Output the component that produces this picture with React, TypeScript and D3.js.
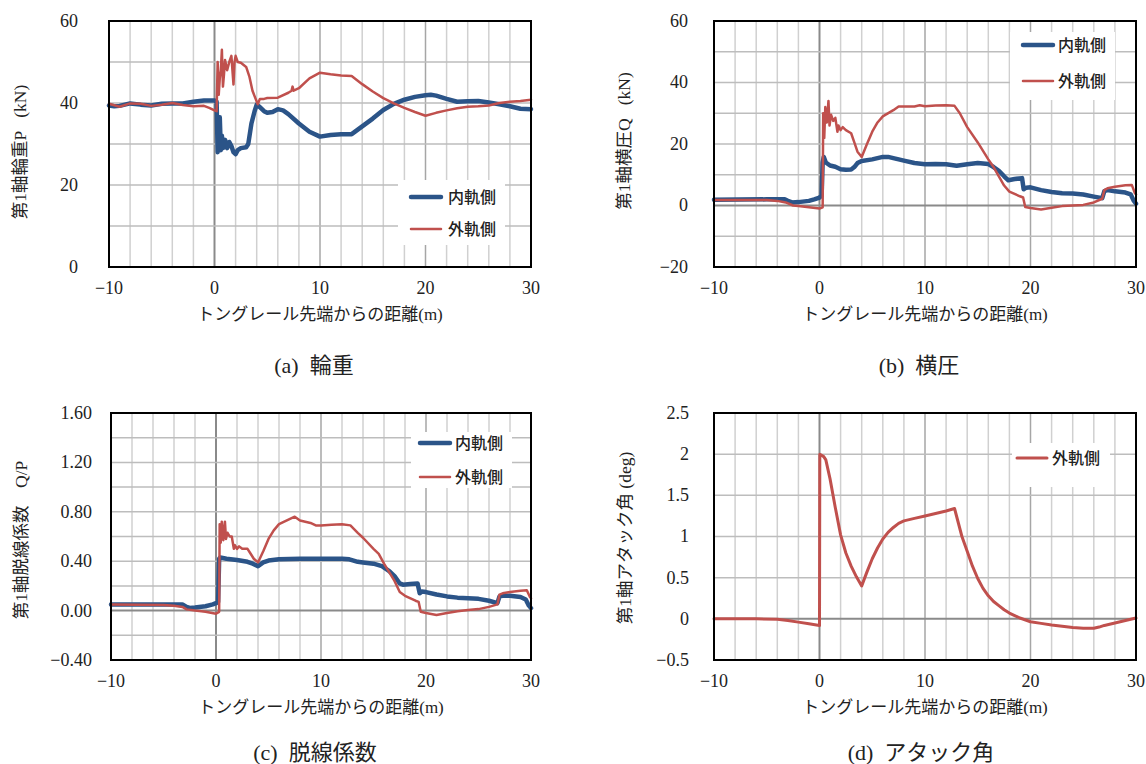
import React from "react";
import * as d3 from "d3";

type Pt = [number, number];

const xTicks = [-10, 0, 10, 20, 30];
const xTickLabels = ["−10", "0", "10", "20", "30"];
const innerName = "内軌側";
const outerName = "外軌側";
const xTitle = "トングレール先端からの距離(m)";

// (a) 輪重 P (kN)
const loadInner: Pt[] = [[-10,39.4],[-9.5,39.2],[-9,39.3],[-8,39.9],[-7,39.6],[-6,39.4],[-5,39.8],[-4,39.9],[-3,39.9],[-2,40.3],[-1,40.6],[0,40.6],[0.2,40.3],[0.3,28],[0.4,33],[0.5,36.5],[0.6,28.5],[0.7,32],[0.8,29],[1.0,31],[1.2,29],[1.4,30.5],[1.6,29.5],[1.8,28],[2.0,27.5],[2.2,28.5],[2.5,29],[3.0,29.2],[3.2,30],[3.5,35],[3.8,38],[4.0,39.6],[4.3,39],[4.7,38],[5.0,37.6],[5.5,37.8],[6.0,38.5],[6.5,38.2],[7.0,37.3],[8.0,35],[9.0,33],[10.0,31.8],[11.0,32.2],[12.0,32.4],[13.0,32.4],[14.0,34.3],[15.0,36.2],[16.0,38.3],[17.0,39.8],[18.0,40.8],[19.0,41.5],[20.0,41.9],[20.5,42],[21.0,41.8],[22.0,41],[23.0,40.3],[24.0,40.4],[25.0,40.5],[26.0,40.1],[27.0,39.7],[28.0,39.2],[29.0,38.6],[30.0,38.5]];
const loadOuter: Pt[] = [[-10,39.8],[-9,39.1],[-8,39.9],[-7,39.8],[-6,39.3],[-5,39.6],[-4,40.0],[-3,39.5],[-2,39.2],[-1,39.3],[-0.5,38.8],[0,38.2],[0.2,38],[0.3,50],[0.4,42],[0.5,46],[0.6,48],[0.7,53],[0.8,44],[0.9,47],[1.0,50.5],[1.2,48],[1.4,50],[1.6,51.5],[1.8,44.5],[1.9,50],[2.0,51.5],[2.2,50],[2.5,49.8],[3.0,48.8],[3.3,46.5],[3.6,43],[3.9,41],[4.1,39.7],[4.3,41],[4.7,41],[5.0,41.2],[6.0,41.3],[7.0,42.5],[7.3,43],[7.4,44],[7.5,43],[8.0,43.6],[9.0,46],[10.0,47.4],[11.0,47],[12.0,46.7],[13.0,46.6],[14.0,44.6],[15.0,42.8],[16.0,41.2],[17.0,39.9],[18.0,38.8],[19.0,37.8],[20.0,36.9],[21.0,37.6],[22.0,38.2],[23.0,38.7],[24.0,39.1],[25.0,39.2],[26.0,39.4],[27.0,40.0],[28.0,40.3],[29.0,40.5],[30.0,40.8]];

// (b) 横圧 Q (kN)
const latInner: Pt[] = [[-10,1.9],[-5,2.0],[-3.3,2.0],[-3,1.5],[-2.6,1.0],[-2,1.1],[-1,1.5],[-0.5,2.0],[0,2.6],[0.2,3.2],[0.3,14],[0.4,15.8],[0.6,14],[0.8,13.5],[1.0,13],[1.5,12.6],[2.0,11.8],[2.5,11.6],[3.0,11.7],[3.3,12.5],[3.6,13.8],[4.0,14.5],[5.0,15.0],[6.0,15.8],[6.5,15.8],[7.0,15.4],[8.0,14.6],[9.0,13.8],[10.0,13.4],[11.0,13.5],[12.0,13.4],[13.0,12.9],[14.0,13.4],[15.0,13.8],[16.0,13.5],[16.5,12.5],[17.0,11.3],[17.5,9.5],[17.9,8.2],[18.5,8.6],[19.2,8.9],[19.35,5.3],[19.6,5.8],[20.0,5.9],[21.0,5.0],[22.0,4.4],[23.0,4.0],[24.0,3.9],[25.0,3.6],[26.0,2.9],[26.8,2.4],[27.0,4.7],[27.3,5.0],[28.0,4.6],[29.0,4.2],[29.5,3.6],[29.8,1.5],[30.0,0.6]];
const latOuter: Pt[] = [[-10,1.8],[-5,1.8],[-4,1.5],[-3.2,1.0],[-2.5,0.0],[-2,-0.2],[-1,-0.6],[0,-1.0],[0.3,-0.6],[0.35,30],[0.45,22],[0.55,32],[0.7,27],[0.85,34],[0.95,26],[1.1,29.5],[1.3,27.5],[1.5,28.5],[1.7,24],[1.8,26],[2.0,24.5],[2.2,25.5],[2.5,24.5],[3.0,23.5],[3.3,20.5],[3.6,17.5],[4.0,15.8],[4.5,20],[5.0,24],[5.5,27],[6.0,29],[7.0,31],[7.5,32.2],[8.0,32.2],[9.0,32.2],[9.5,32.6],[10.0,32.3],[11.0,32.5],[12.0,32.6],[12.8,32.4],[13.3,30],[14.0,25.5],[15.0,20.5],[16.0,15],[16.5,12.5],[17.0,9.5],[17.5,6.5],[18.0,4.5],[19.0,3.0],[19.3,2.6],[19.5,-0.5],[20.0,-0.8],[21.0,-1.3],[22.0,-0.7],[23.0,-0.2],[24.0,0.0],[25.0,0.2],[26.0,1.0],[26.8,2.2],[27.0,5.0],[27.3,5.6],[28.0,6.1],[29.0,6.6],[29.6,6.7],[29.9,4.0],[30.0,3.6]];

// (c) 脱線係数 Q/P
const qpInner: Pt[] = [[-10,0.05],[-5,0.05],[-3.2,0.05],[-2.8,0.03],[-2.5,0.022],[-2,0.025],[-1,0.035],[-0.3,0.05],[0,0.06],[0.2,0.07],[0.3,0.42],[0.4,0.43],[1.0,0.42],[2.0,0.41],[3.0,0.395],[3.5,0.38],[4.0,0.36],[4.5,0.39],[5.0,0.405],[6.0,0.415],[8.0,0.42],[10.0,0.42],[12.0,0.42],[12.7,0.415],[13.5,0.395],[14.0,0.39],[15.0,0.38],[15.8,0.36],[16.5,0.32],[17.0,0.28],[17.5,0.22],[17.8,0.21],[18.5,0.215],[19.2,0.22],[19.4,0.14],[19.6,0.155],[20.0,0.15],[21.0,0.13],[22.0,0.115],[23.0,0.105],[24.0,0.1],[25.0,0.095],[26.0,0.08],[26.8,0.06],[27.0,0.115],[27.3,0.12],[28.0,0.12],[29.0,0.11],[29.5,0.09],[29.8,0.04],[30.0,0.02]];
const qpOuter: Pt[] = [[-10,0.05],[-5,0.045],[-4,0.04],[-3.2,0.03],[-2.8,0.01],[-2,0.0],[-1,-0.01],[0,-0.025],[0.3,-0.01],[0.35,0.7],[0.45,0.55],[0.55,0.72],[0.7,0.57],[0.85,0.72],[0.95,0.58],[1.1,0.63],[1.3,0.6],[1.5,0.6],[1.7,0.5],[1.8,0.53],[2.0,0.5],[2.2,0.52],[2.5,0.5],[3.0,0.5],[3.3,0.46],[3.6,0.42],[4.0,0.39],[4.5,0.48],[5.0,0.58],[5.5,0.65],[6.0,0.7],[7.0,0.74],[7.5,0.76],[8.0,0.73],[9.0,0.71],[9.5,0.69],[10.0,0.69],[11.0,0.695],[12.0,0.7],[12.8,0.69],[13.5,0.63],[14.0,0.59],[15.0,0.5],[15.5,0.46],[16.0,0.38],[17.0,0.24],[17.5,0.15],[18.0,0.12],[19.0,0.08],[19.3,0.07],[19.5,-0.01],[20.0,-0.02],[21.0,-0.035],[22.0,-0.02],[23.0,-0.005],[24.0,0.005],[25.0,0.012],[26.0,0.03],[26.8,0.05],[27.0,0.13],[27.3,0.14],[28.0,0.15],[29.0,0.16],[29.6,0.165],[29.9,0.11],[30.0,0.1]];

// (d) アタック角 (deg)
const attackOuter: Pt[] = [[-10,0],[-6,0],[-4,-0.005],[-3,-0.02],[-2,-0.04],[-1,-0.06],[0,-0.08],[0.03,2.0],[0.4,1.97],[0.6,1.93],[1.0,1.7],[1.5,1.35],[2.0,1.02],[2.5,0.8],[3.0,0.64],[3.5,0.51],[4.0,0.4],[4.5,0.57],[5.0,0.73],[5.5,0.86],[6.0,0.97],[6.5,1.05],[7.0,1.11],[7.5,1.16],[8.0,1.19],[9.0,1.22],[10.0,1.25],[11.0,1.28],[12.0,1.31],[12.8,1.34],[13.5,1.0],[14.0,0.82],[14.5,0.64],[15.0,0.49],[15.5,0.37],[16.0,0.28],[16.5,0.21],[17.0,0.16],[17.5,0.11],[18.0,0.07],[18.5,0.04],[19.0,0.01],[20.0,-0.035],[21.0,-0.055],[22.0,-0.075],[23.0,-0.09],[24.0,-0.105],[25.0,-0.115],[26.0,-0.115],[26.5,-0.1],[27.0,-0.08],[28.0,-0.05],[29.0,-0.02],[30.0,0.01]];

const loadTicks = [0, 20, 40, 60];
const loadTickLabels = ["0", "20", "40", "60"];
const latTicks = [-20, 0, 20, 40, 60];
const latTickLabels = ["−20", "0", "20", "40", "60"];
const qpTicks = [-0.4, 0, 0.4, 0.8, 1.2, 1.6];
const qpTickLabels = ["−0.40", "0.00", "0.40", "0.80", "1.20", "1.60"];
const attackTicks = [-0.5, 0, 0.5, 1, 1.5, 2, 2.5];
const attackTickLabels = ["−0.5", "0", "0.5", "1", "1.5", "2", "2.5"];

const BLUE = "#2b5488";
const RED = "#c0504d";
const FONT = "'Liberation Serif', 'Noto Sans CJK JP', serif";
const JFONT = "'Noto Sans CJK JP', sans-serif";

type Series = { name: string; data: Pt[]; color: string; width: number };

type PanelProps = {
  left: number; right: number; top: number; bottom: number;
  yTicks: number[]; yTickLabels: string[]; yGridStep: number;
  labelRight: number;
  yTitle: string; yTitleX: number; yTitleY: number;
  caption: string; captionX: number; captionY: number;
  legend: { x: number; y: number; w: number; h: number; rowY: number[]; lineX0: number; lineX1: number; textX: number };
  series: Series[];
};

function Panel(p: PanelProps) {
  const yMin = p.yTicks[0];
  const yMax = p.yTicks[p.yTicks.length - 1];
  const x = d3.scaleLinear().domain([-10, 30]).range([p.left, p.right]);
  const y = d3.scaleLinear().domain([yMin, yMax]).range([p.bottom, p.top]);
  const line = d3.line<Pt>().x((d) => x(d[0])).y((d) => y(d[1]));
  const vGrid = d3.range(-8, 30, 2);
  const nH = Math.round((yMax - yMin) / p.yGridStep);
  const hGrid = d3.range(1, nH).map((i) => yMin + i * p.yGridStep);
  const clipId = `clip-${p.left}-${p.top}`;
  return (
    <g>
      <defs>
        <clipPath id={clipId}>
          <rect x={p.left - 3} y={p.top} width={p.right - p.left + 6} height={p.bottom - p.top} />
        </clipPath>
      </defs>
      {vGrid.map((m) => (
        <line key={"v" + m} x1={x(m)} x2={x(m)} y1={p.top} y2={p.bottom}
          stroke={m === 0 ? "#8a8a8a" : m % 10 === 0 ? "#a6a6a6" : "#d0d0d0"}
          strokeWidth={m === 0 ? 2 : 1.5} />
      ))}
      {hGrid.map((v) => (
        <line key={"h" + v} x1={p.left} x2={p.right} y1={y(v)} y2={y(v)}
          stroke={Math.abs(v) < 1e-9 ? "#8a8a8a" : "#bdbdbd"}
          strokeWidth={Math.abs(v) < 1e-9 ? 2 : 1.5} />
      ))}
      <g clipPath={`url(#${clipId})`}>
        {p.series.map((s) => (
          <path key={s.name} d={line(s.data) || ""} fill="none" stroke={s.color}
            strokeWidth={s.width} strokeLinejoin="round" strokeLinecap="round" />
        ))}
      </g>
      <rect x={p.left} y={p.top} width={p.right - p.left} height={p.bottom - p.top}
        fill="none" stroke="#000" strokeWidth={2} />
      <rect x={p.legend.x} y={p.legend.y} width={p.legend.w} height={p.legend.h} fill="#fff" />
      {p.series.map((s, i) => (
        <g key={"lg" + s.name}>
          <line x1={p.legend.lineX0} x2={p.legend.lineX1} y1={p.legend.rowY[i]} y2={p.legend.rowY[i]}
            stroke={s.color} strokeWidth={s.width} strokeLinecap="round" />
          <text x={p.legend.textX} y={p.legend.rowY[i]} dy="0.36em" fontFamily={JFONT}
            fontSize={16} fontWeight={500} fill="#222">{s.name}</text>
        </g>
      ))}
      {p.yTicks.map((v, i) => (
        <text key={"yt" + v} x={p.labelRight} y={y(v)} dy="0.33em" textAnchor="end"
          fontFamily={FONT} fontSize={18} fill="#222">{p.yTickLabels[i]}</text>
      ))}
      {xTicks.map((m, i) => (
        <text key={"xt" + m} x={x(m)} y={p.bottom + 21} dy="0.33em" textAnchor="middle"
          fontFamily={FONT} fontSize={18} fill="#222">{xTickLabels[i]}</text>
      ))}
      <text x={(p.left + p.right) / 2} y={p.bottom + 47} dy="0.35em" textAnchor="middle"
        fontFamily={FONT} fontSize={17} fill="#222">{xTitle}</text>
      <text transform={`translate(${p.yTitleX},${p.yTitleY}) rotate(-90)`} dy="0.35em"
        textAnchor="middle" fontFamily={FONT} fontSize={17.5} fill="#222">{p.yTitle}</text>
      <text x={p.captionX} y={p.captionY} dy="0.35em" textAnchor="middle"
        fontFamily={FONT} fontSize={22} fill="#222" style={{ whiteSpace: "pre" }}>{p.caption}</text>
    </g>
  );
}

export default function App() {
  return (
    <svg width={1146} height={764} style={{ position: "absolute", left: 0, top: 0, background: "#fff" }}>
      <rect width={1146} height={764} fill="#fff" />
      <Panel left={109} right={531} top={21} bottom={267}
        yTicks={loadTicks} yTickLabels={loadTickLabels} yGridStep={10} labelRight={78}
        yTitle={"第1軸輪重P\u2002 (kN)"} yTitleX={20} yTitleY={152}
        caption={"(a)  輪重"} captionX={314} captionY={365}
        legend={{ x: 398, y: 180, w: 107, h: 65, rowY: [197, 229], lineX0: 411, lineX1: 441, textX: 448 }}
        series={[
          { name: innerName, data: loadInner, color: BLUE, width: 4.5 },
          { name: outerName, data: loadOuter, color: RED, width: 2.5 },
        ]} />
      <Panel left={714} right={1136} top={21} bottom={267}
        yTicks={latTicks} yTickLabels={latTickLabels} yGridStep={10} labelRight={688}
        yTitle={"第1軸横圧Q\u2002 (kN)"} yTitleX={624} yTitleY={141}
        caption={"(b)  横圧"} captionX={919} captionY={365}
        legend={{ x: 1010, y: 32, w: 105, h: 68, rowY: [45, 81], lineX0: 1023, lineX1: 1053, textX: 1058 }}
        series={[
          { name: innerName, data: latInner, color: BLUE, width: 4.5 },
          { name: outerName, data: latOuter, color: RED, width: 2.5 },
        ]} />
      <Panel left={111} right={531} top={413} bottom={660}
        yTicks={qpTicks} yTickLabels={qpTickLabels} yGridStep={0.2} labelRight={92}
        yTitle={"第1軸脱線係数\u3000Q/P"} yTitleX={21} yTitleY={540}
        caption={"(c)  脱線係数"} captionX={315} captionY={752}
        legend={{ x: 411, y: 432, w: 101, h: 56, rowY: [443, 477], lineX0: 420, lineX1: 450, textX: 455 }}
        series={[
          { name: innerName, data: qpInner, color: BLUE, width: 4.5 },
          { name: outerName, data: qpOuter, color: RED, width: 2.5 },
        ]} />
      <Panel left={714} right={1136} top={413} bottom={660}
        yTicks={attackTicks} yTickLabels={attackTickLabels} yGridStep={0.5} labelRight={689}
        yTitle="第1軸アタック角 (deg)" yTitleX={625} yTitleY={538}
        caption={"(d)  アタック角"} captionX={921} captionY={752}
        legend={{ x: 1012, y: 443, w: 98, h: 44, rowY: [458], lineX0: 1017, lineX1: 1047, textX: 1052 }}
        series={[
          { name: outerName, data: attackOuter, color: RED, width: 3 },
        ]} />
    </svg>
  );
}
